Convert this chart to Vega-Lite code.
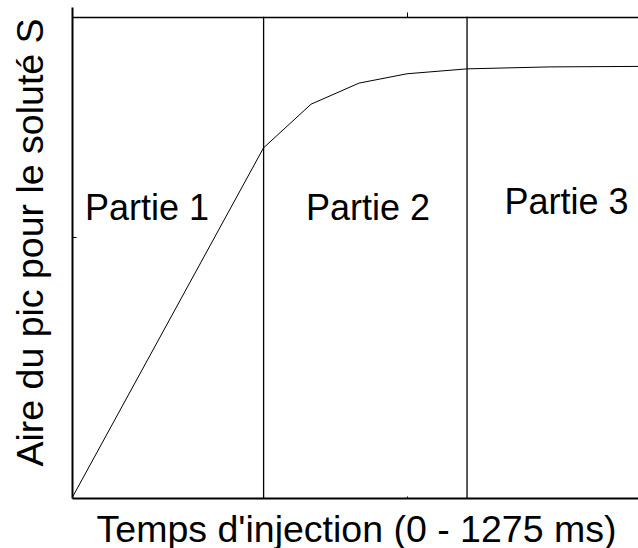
{
  "$schema": "https://vega.github.io/schema/vega-lite/v6.json",
  "width": 566,
  "height": 491,
  "autosize": {"type": "none"},
  "padding": {"left": 72, "top": 7, "right": 0, "bottom": 50},
  "config": {"view": {"stroke": null}, "font": "Liberation Sans", "background": "white"},
  "datasets": {
    "curve": [
      {"t": 0, "aire": 0},
      {"t": 364.4, "aire": 71.3},
      {"t": 454.8, "aire": 80.2},
      {"t": 546.2, "aire": 84.5},
      {"t": 637.5, "aire": 86.4},
      {"t": 751.7, "aire": 87.4},
      {"t": 909.6, "aire": 87.8},
      {"t": 1077, "aire": 87.9}
    ],
    "bornes": [
      {"t": 364.6, "bas": 0, "haut": 98},
      {"t": 751.7, "bas": 0, "haut": 98}
    ],
    "parties": [
      {"t": 142.7, "y": 56.6, "label": "Partie 1"},
      {"t": 563.3, "y": 56.6, "label": "Partie 2"},
      {"t": 941, "y": 57.8, "label": "Partie 3"}
    ]
  },
  "resolve": {"axis": {"x": "independent"}},
  "layer": [
    {
      "data": {"name": "curve"},
      "mark": {"type": "line", "color": "black", "strokeWidth": 1, "clip": true},
      "encoding": {
        "x": {"field": "t", "type": "quantitative", "scale": {"domain": [0, 1077], "nice": false, "zero": false},
          "axis": {"orient": "bottom", "title": "Temps d'injection (0 - 1275 ms)", "titleFontSize": 37.5, "titleFontWeight": "normal", "titleColor": "black",
            "titleX": 284, "titleY": 43, "titleAlign": "center", "titleBaseline": "alphabetic", "titleAnchor": null,
            "labels": false, "grid": false, "values": [637.5], "tickSize": -2, "tickColor": "black", "domainColor": "black", "domainWidth": 1.8}},
        "y": {"field": "aire", "type": "quantitative", "scale": {"domain": [0, 100], "nice": false},
          "axis": {"title": "Aire du pic pour le soluté S", "titleFontSize": 37.5, "titleFontWeight": "normal", "titleColor": "black",
            "titleX": -30, "titleY": 235, "titleAngle": -90, "titleAlign": "center", "titleBaseline": "alphabetic", "titleAnchor": null,
            "labels": false, "grid": false, "values": [53.2], "tickSize": -4, "tickColor": "black", "domainColor": "black", "domainWidth": 2}}
      }
    },
    {
      "data": {"name": "bornes"},
      "mark": {"type": "rule", "color": "black", "strokeWidth": 1.3},
      "encoding": {
        "x": {"field": "t", "type": "quantitative",
          "axis": {"orient": "top", "offset": -10, "title": null, "labels": false, "grid": false, "values": [637.5], "tickSize": 5, "tickColor": "black", "domainColor": "black", "domainWidth": 1.6}},
        "y": {"field": "bas", "type": "quantitative"},
        "y2": {"field": "haut"}
      }
    },
    {
      "data": {"name": "parties"},
      "mark": {"type": "text", "fontSize": 36, "align": "center", "baseline": "alphabetic", "color": "black", "font": "Liberation Sans"},
      "encoding": {
        "x": {"field": "t", "type": "quantitative", "axis": null},
        "y": {"field": "y", "type": "quantitative"},
        "text": {"field": "label"}
      }
    }
  ]
}
